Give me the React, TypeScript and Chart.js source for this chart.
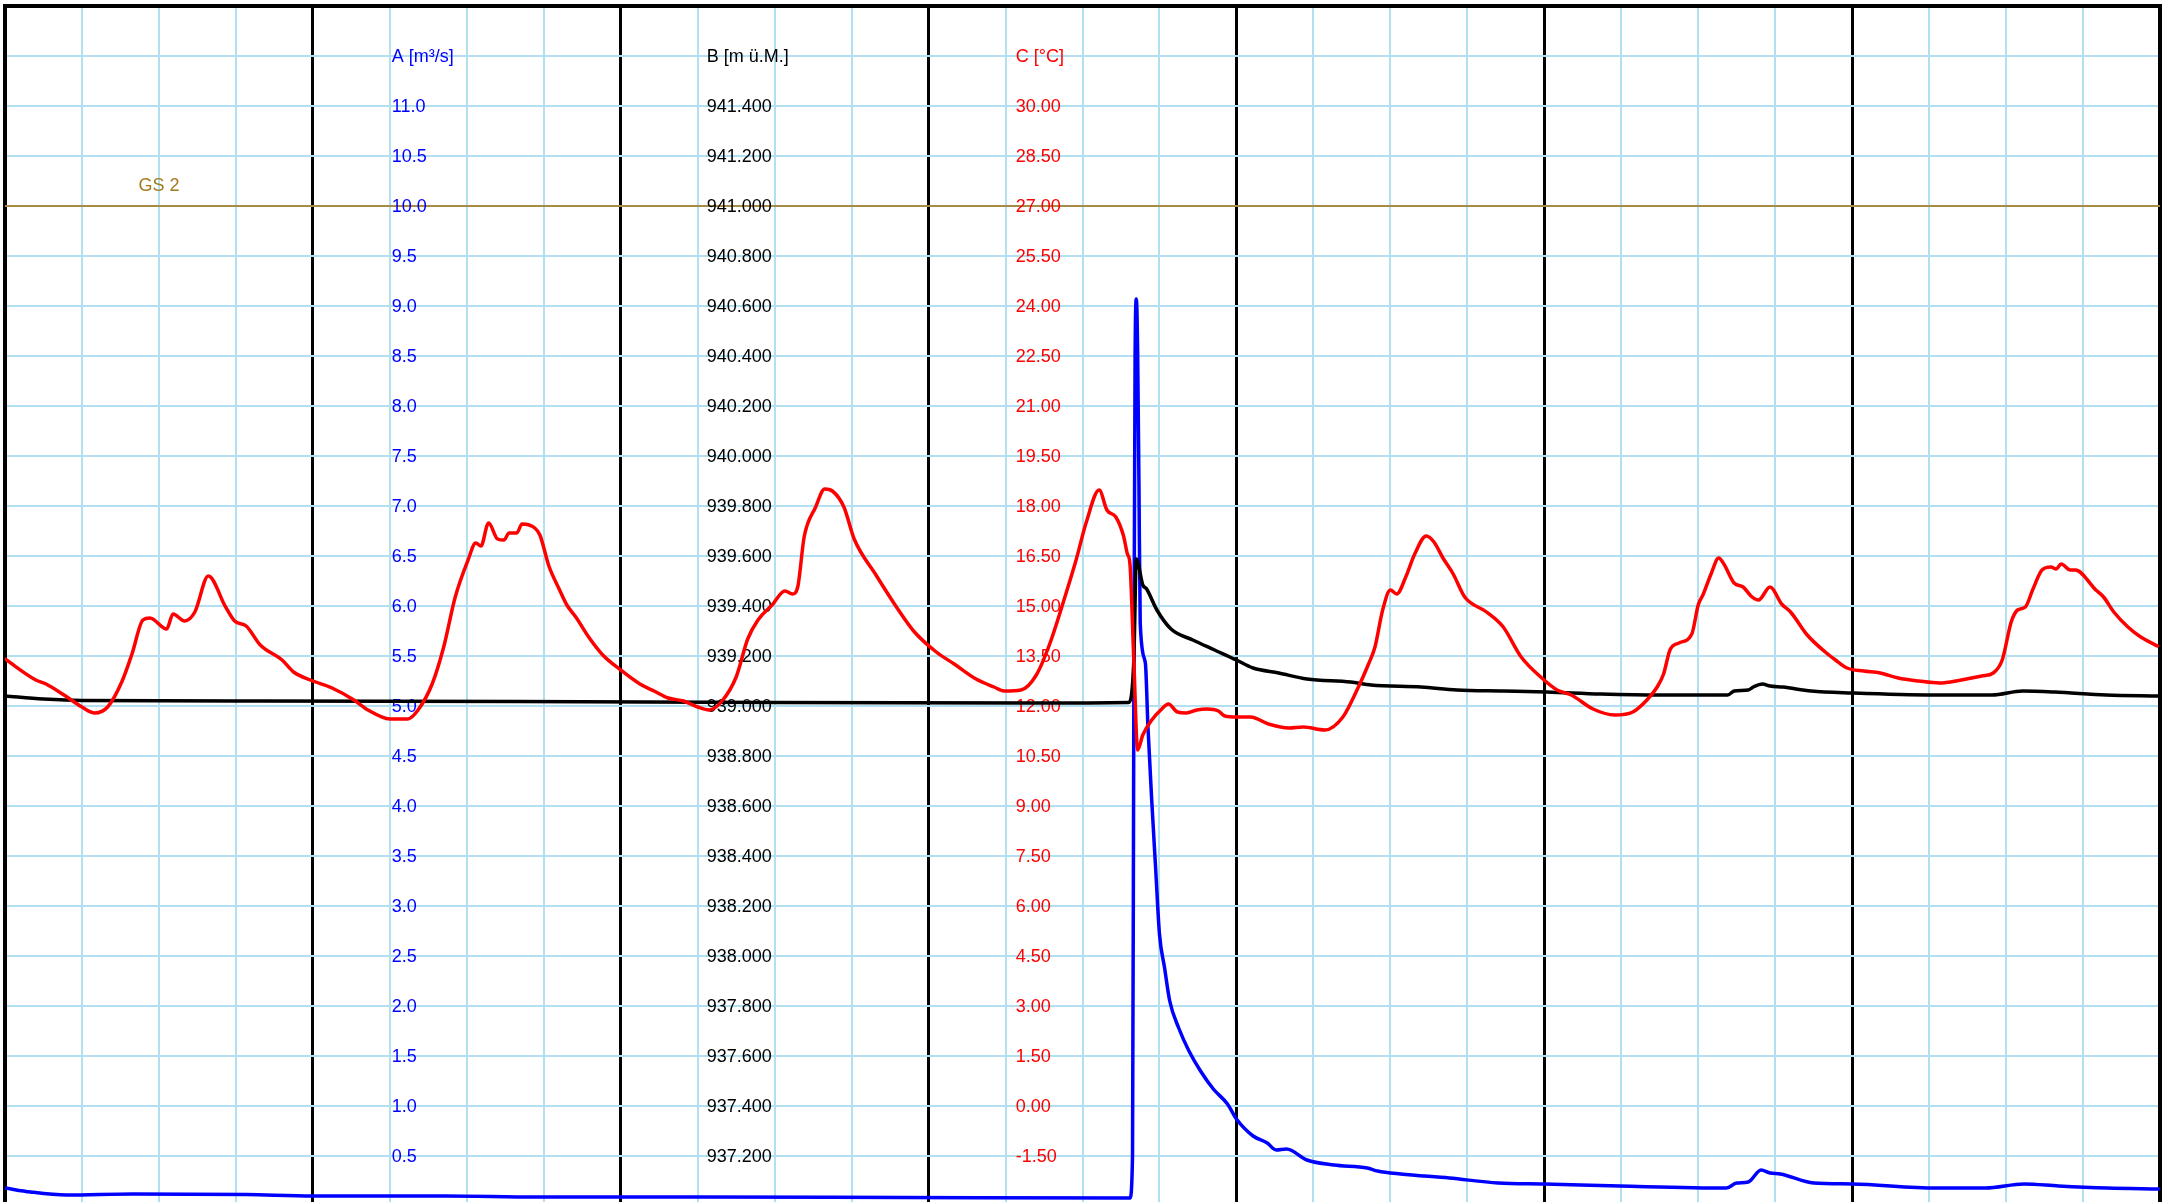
import React, { useEffect, useRef } from 'react';
import { Chart, registerables } from 'chart.js';

Chart.register(...registerables);

// ---- Data (x in hours since start of the 7-day window) ----
const tempHours = [0,2.4,3.2,4.6,6,7,8,9.1,9.9,10.75,11.3,12.6,13.1,14,14.8,15.85,17.2,17.9,18.8,19.9,21.6,22.5,23.8,25.5,27.2,28.3,30,31.4,32.2,33.3,34.2,35.1,36.1,36.7,37.1,37.7,38.4,38.9,39.3,39.9,40.3,41.3,41.7,42.4,43.2,43.8,44.5,45.5,46.6,48,49.5,50.6,51.7,52.9,54,54.9,55.9,57,57.9,58.7,59.8,60.8,61.4,61.8,62.3,63.2,63.9,64.5,65.4,66.2,67.9,69.6,70.9,72.6,74,75.7,77.1,77.9,79.2,80.4,81.5,82.7,83.5,84.3,85.3,85.9,86.6,87.2,87.5,87.7,88,88.3,88.7,89.4,90.1,90.7,91.4,92.1,92.9,93.7,94.6,95.1,96,97.1,98.5,100.1,101.2,102.9,104.3,105.4,106.3,106.8,107.4,108,108.5,109.2,109.9,110.8,111.4,112.1,112.9,113.8,115.5,116.8,118.2,119.9,121,122.1,123.8,125.5,126.9,128,128.8,129.3,129.8,130.5,131.5,132,132.4,133,133.6,134,134.8,135.5,136.2,136.7,137.6,138.5,139.2,140.5,141.9,142.7,143.6,144.9,146.2,147.6,149.2,150.8,152.5,154.1,155,155.7,156.4,156.9,157.5,158.1,158.8,159.5,159.9,160.3,161,161.4,163,163.6,164.4,165.5,166.5,167.8];
const tempValues = [13.41,12.78,12.66,12.33,11.97,11.79,11.97,12.72,13.56,14.58,14.64,14.31,14.76,14.55,14.82,15.90,14.97,14.55,14.40,13.83,13.38,13.02,12.78,12.54,12.18,11.88,11.61,11.61,11.88,12.66,13.77,15.27,16.38,16.89,16.80,17.49,17.01,16.98,17.19,17.19,17.46,17.34,17.13,16.20,15.51,15.03,14.67,14.07,13.53,13.08,12.66,12.45,12.24,12.15,11.97,11.88,12.15,12.87,14.01,14.58,15.03,15.45,15.36,15.57,17.07,17.97,18.51,18.45,17.97,17.01,15.93,14.91,14.22,13.62,13.26,12.81,12.57,12.45,12.48,12.93,13.92,15.36,16.38,17.52,18.48,17.88,17.67,17.10,16.56,16.26,13.38,10.68,11.13,11.58,11.88,12.06,11.82,11.79,11.88,11.91,11.85,11.70,11.67,11.67,11.46,11.34,11.37,11.28,11.67,12.48,13.26,13.77,14.88,15.48,15.36,15.87,16.56,17.10,16.92,16.44,15.96,15.27,14.82,14.37,13.47,12.81,12.48,12.33,11.91,11.73,11.82,12.18,12.57,12.96,13.68,13.89,14.16,15.03,15.36,15.96,16.44,16.26,15.69,15.57,15.27,15.18,15.57,15.06,14.82,14.13,13.62,13.38,13.14,13.05,12.99,12.84,12.75,12.69,12.78,12.90,12.99,13.38,14.52,14.88,14.97,15.51,16.08,16.17,16.11,16.26,16.08,16.08,15.48,15.27,14.82,14.37,14.07,13.80];

const levelHours = [0,3,6,20,40,60,80,87.6,88.0,88.2,88.7,89.0,89.8,90.9,92.6,94.3,96.0,97.3,99.3,101.5,104.9,106.5,110.4,113.2,116.8,120.2,124.4,129.0,134.3,134.8,135.9,136.3,137.0,137.6,138.6,140.8,144.0,150.3,154.9,157.3,159.8,163.8,167.9];
const levelValues = [939.040,939.028,939.022,939.020,939.018,939.014,939.012,939.014,939.184,939.588,939.484,939.468,939.384,939.308,939.264,939.224,939.184,939.152,939.132,939.108,939.096,939.084,939.076,939.064,939.060,939.056,939.048,939.044,939.044,939.060,939.064,939.076,939.088,939.080,939.076,939.060,939.052,939.044,939.044,939.060,939.056,939.044,939.040];

const flowHours = [0,2,4.8,10,18.8,24,34.4,41.4,54.2,70,87.7,87.9,88.0,88.1,88.2,88.3,88.4,88.5,88.9,89.1,89.4,89.7,90.0,90.4,90.8,91.5,92.3,93.2,94.2,95.3,96.0,97.3,98.4,99.1,99.9,101.5,103.6,106.2,107.0,108.8,112.6,116.4,120.0,125.9,134.2,135.0,135.9,136.9,137.6,138.4,141.0,144.0,150.5,154.4,157.4,160.1,163.9,167.9];
const flowValues = [0.18,0.14,0.11,0.12,0.115,0.10,0.10,0.09,0.09,0.085,0.08,0.5,5.0,8.5,9.07,8.53,7.23,5.83,5.43,4.8,4.05,3.38,2.72,2.38,2.05,1.78,1.55,1.35,1.17,1.02,0.87,0.70,0.63,0.56,0.57,0.46,0.41,0.38,0.35,0.32,0.28,0.23,0.22,0.20,0.18,0.23,0.24,0.36,0.33,0.32,0.23,0.22,0.18,0.18,0.22,0.20,0.18,0.17];

// ---- Tick labels ----
const axisTitles = ['A [m³/s]', 'B [m ü.M.]', 'C [°C]'];
const flowTickLabels = ['0.5','1.0','1.5','2.0','2.5','3.0','3.5','4.0','4.5','5.0','5.5','6.0','6.5','7.0','7.5','8.0','8.5','9.0','9.5','10.0','10.5','11.0'];
const levelTickLabels = ['937.200','937.400','937.600','937.800','938.000','938.200','938.400','938.600','938.800','939.000','939.200','939.400','939.600','939.800','940.000','940.200','940.400','940.600','940.800','941.000','941.200','941.400'];
const tempTickLabels = ['-1.50','0.00','1.50','3.00','4.50','6.00','7.50','9.00','10.50','12.00','13.50','15.00','16.50','18.00','19.50','21.00','22.50','24.00','25.50','27.00','28.50','30.00'];

const gs2Label = 'GS 2';
const gs2Level = 941.0;

// axis ranges (A is the master grid axis; B and C are linked linearly)
const A_MIN = 0.04;
const A_MAX = 12;
const B_MIN = 937 + 0.4 * A_MIN;
const B_MAX = 937 + 0.4 * A_MAX;
const C_MIN = -3 + 3 * A_MIN;
const C_MAX = -3 + 3 * A_MAX;
const HOURS = 168;

const GRID_BLUE = '#b2e0f0';
const FONT = '18px "Liberation Sans", Arial, Helvetica, sans-serif';

const toPoints = (xs: number[], ys: number[]) => {
  const n = Math.min(xs.length, ys.length);
  const out: { x: number; y: number }[] = [];
  for (let i = 0; i < n; i++) out.push({ x: xs[i], y: ys[i] });
  return out;
};

const overlayPlugin = {
  id: 'overlay',
  beforeDatasetsDraw(chart: any) {
    const { ctx, chartArea, scales } = chart;
    const x = scales.x;
    const yA = scales.yA;
    const yB = scales.yB;
    const yC = scales.yC;
    ctx.save();

    // borders
    ctx.strokeStyle = '#000';
    ctx.lineWidth = 4;
    ctx.beginPath();
    ctx.moveTo(chartArea.left, chartArea.bottom + 4);
    ctx.lineTo(chartArea.left, chartArea.top);
    ctx.lineTo(chartArea.right, chartArea.top);
    ctx.lineTo(chartArea.right, chartArea.bottom + 4);
    ctx.stroke();

    // GS 2 line
    const gy = Math.round(yB.getPixelForValue(gs2Level));
    ctx.strokeStyle = '#a68c48';
    ctx.lineWidth = 2;
    ctx.beginPath();
    ctx.moveTo(chartArea.left, gy);
    ctx.lineTo(chartArea.right, gy);
    ctx.stroke();

    ctx.font = FONT;
    ctx.fillStyle = '#a47a1e';
    ctx.textAlign = 'center';
    ctx.textBaseline = 'middle';
    ctx.fillText(gs2Label, x.getPixelForValue(12), gy - 20);

    // inline axis labels
    ctx.textAlign = 'left';
    const headerY = yA.getPixelForValue(11.5);
    const cols = [
      { px: x.getPixelForValue(30) + 2, color: '#0000ff', labels: flowTickLabels, scale: yA, title: axisTitles[0] },
      { px: x.getPixelForValue(54.7), color: '#000000', labels: levelTickLabels, scale: yB, title: axisTitles[1] },
      { px: x.getPixelForValue(78.8), color: '#ff0000', labels: tempTickLabels, scale: yC, title: axisTitles[2] },
    ];
    cols.forEach((c) => {
      ctx.fillStyle = c.color;
      ctx.fillText(c.title, c.px, headerY + 1);
      c.labels.forEach((lab) => {
        const py = c.scale.getPixelForValue(parseFloat(lab));
        ctx.fillText(lab, c.px, py + 1);
      });
    });
    ctx.restore();
  },
};

export default function App() {
  const ref = useRef<HTMLCanvasElement>(null);

  useEffect(() => {
    const canvas = ref.current;
    if (!canvas) return;
    document.body.style.margin = '0';
    const chart = new Chart(canvas, {
      type: 'line',
      data: {
        datasets: [
          {
            label: 'C',
            data: toPoints(tempHours, tempValues),
            yAxisID: 'yC',
            borderColor: '#ff0000',
            borderWidth: 3.5,
            pointRadius: 0,
            cubicInterpolationMode: 'monotone',
            order: 0,
          },
          {
            label: 'B',
            data: toPoints(levelHours, levelValues),
            yAxisID: 'yB',
            borderColor: '#000000',
            borderWidth: 3.5,
            pointRadius: 0,
            cubicInterpolationMode: 'monotone',
            order: 1,
          },
          {
            label: 'A',
            data: toPoints(flowHours, flowValues),
            yAxisID: 'yA',
            borderColor: '#0000ff',
            borderWidth: 3.5,
            pointRadius: 0,
            cubicInterpolationMode: 'monotone',
            order: 2,
          },
        ],
      },
      options: {
        responsive: false,
        animation: false,
        devicePixelRatio: 1,
        events: [],
        layout: { padding: { left: 5, top: 6, right: 4, bottom: 0 } },
        plugins: {
          legend: { display: false },
          tooltip: { enabled: false },
          title: { display: false },
        },
        elements: { line: { borderJoinStyle: 'round', borderCapStyle: 'round' } },
        scales: {
          x: {
            type: 'linear',
            min: 0,
            max: HOURS,
            ticks: { display: false },
            afterBuildTicks: (s: any) => {
              const t = [];
              for (let h = 0; h <= HOURS; h += 6) t.push({ value: h });
              s.ticks = t;
            },
            grid: {
              drawTicks: false,
              color: (c: any) => (c.tick && c.tick.value % 24 === 0 ? '#000000' : GRID_BLUE),
              lineWidth: (c: any) => (c.tick && c.tick.value % 24 === 0 ? 3 : 2),
            },
            border: { display: false },
          },
          yA: {
            type: 'linear',
            position: 'left',
            min: A_MIN,
            max: A_MAX,
            ticks: { display: false },
            afterBuildTicks: (s: any) => {
              const t = [];
              for (let v = 0.5; v < A_MAX; v += 0.5) t.push({ value: v });
              s.ticks = t;
            },
            grid: { drawTicks: false, color: GRID_BLUE, lineWidth: 2 },
            border: { display: false },
          },
          yB: { type: 'linear', display: false, min: B_MIN, max: B_MAX },
          yC: { type: 'linear', display: false, min: C_MIN, max: C_MAX },
        },
      },
      plugins: [overlayPlugin],
    } as any);
    return () => chart.destroy();
  }, []);

  return (
    <div style={{ position: 'fixed', left: 0, top: 0, width: 2164, height: 1202, background: '#ffffff', overflow: 'hidden' }}>
      <canvas ref={ref} width={2164} height={1202} style={{ display: 'block', width: 2164, height: 1202 }} />
    </div>
  );
}
